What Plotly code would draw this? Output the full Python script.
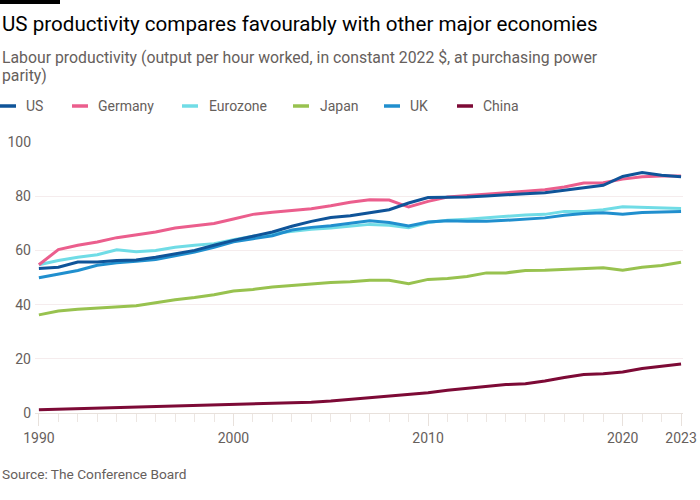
import plotly.graph_objects as go

years = list(range(1990, 2024))

us = [53.3, 53.8, 55.7, 55.7, 56.3, 56.5, 57.5, 58.7, 60.0, 61.9,
      63.7, 65.2, 66.8, 68.9, 70.7, 72.1, 72.8, 73.9, 75.0, 77.5,
      79.5, 79.6, 79.7, 80.1, 80.6, 80.9, 81.3, 82.2, 83.0, 84.0,
      87.3, 88.7, 87.7, 87.2]
germany = [54.7, 60.3, 61.9, 63.1, 64.7, 65.7, 66.8, 68.3, 69.0, 69.9,
           71.6, 73.3, 74.1, 74.7, 75.4, 76.5, 77.8, 78.7, 78.6, 76.0,
           78.1, 79.7, 80.3, 80.7, 81.3, 81.8, 82.4, 83.4, 84.9, 85.0,
           86.3, 87.2, 87.5, 87.5]
eurozone = [54.7, 56.3, 57.5, 58.4, 60.2, 59.5, 60.0, 61.2, 61.9, 62.5,
            63.9, 65.2, 66.2, 67.1, 67.8, 68.3, 68.9, 69.6, 69.3, 68.4,
            70.3, 71.1, 71.5, 72.1, 72.6, 73.1, 73.3, 74.4, 74.4, 75.0,
            76.1, 75.9, 75.6, 75.5]
japan = [36.2, 37.6, 38.3, 38.8, 39.3, 39.6, 40.7, 41.8, 42.6, 43.6,
         45.0, 45.6, 46.5, 47.1, 47.5, 48.2, 48.4, 49.0, 49.0, 47.7,
         49.3, 49.6, 50.4, 51.7, 51.7, 52.6, 52.7, 53.0, 53.2, 53.6,
         52.7, 53.8, 54.4, 55.6]
uk = [49.9, 51.2, 52.6, 54.5, 55.4, 56.0, 56.6, 58.0, 59.4, 61.1,
      63.2, 64.3, 65.4, 67.5, 68.5, 69.1, 70.0, 70.9, 70.3, 69.0,
      70.5, 70.9, 70.8, 70.8, 71.1, 71.5, 72.0, 73.0, 73.6, 73.9,
      73.3, 74.0, 74.3, 74.4]
china = [1.2, 1.4, 1.6, 1.7, 1.9, 2.1, 2.3, 2.5, 2.7, 2.8,
         3.0, 3.2, 3.4, 3.7, 4.0, 4.4, 5.0, 5.7, 6.3, 6.9,
         7.5, 8.4, 9.1, 9.9, 10.5, 10.8, 11.8, 13.1, 14.2, 14.5,
         15.1, 16.4, 17.3, 18.1]

series_names = ["US", "Germany", "Eurozone", "Japan", "UK", "China"]
series_values = [us, germany, eurozone, japan, uk, china]
colors = ["#0f5499", "#eb5e8d", "#70dce6", "#98c24f", "#208fce", "#7d0a36"]

x_tickvals = [1990, 2000, 2010, 2020, 2023]
x_ticktext = ["1990", "2000", "2010", "2020", "2023"]
y_tickvals = [0, 20, 40, 60, 80, 100]

title = "US productivity compares favourably with other major economies"
subtitle1 = "Labour productivity (output per hour worked, in constant 2022 $, at purchasing power"
subtitle2 = "parity)"
source = "Source: The Conference Board"

FONT = "Roboto, 'Open Sans', sans-serif"
GREY = "#66605c"

W, H = 700, 500
ML, MR, MT, MB = 35, 17, 142, 87
PW = W - ML - MR
PH = H - MT - MB


def px(x):
    return (x - ML) / PW


def py(y):
    return (H - MB - y) / PH


fig = go.Figure()
draw_order = [5, 3, 2, 4, 1, 0]
for i in draw_order:
    fig.add_trace(go.Scatter(
        x=years, y=series_values[i], name=series_names[i], mode="lines",
        line=dict(color=colors[i], width=3), showlegend=False,
    ))

shapes = [dict(type="rect", xref="paper", yref="paper",
               x0=px(0), x1=px(60), y0=py(4), y1=py(0),
               fillcolor="#000000", line=dict(width=0))]
annotations = [
    dict(text=title, x=px(0), y=py(24), xref="paper", yref="paper",
         xanchor="left", yanchor="middle", showarrow=False,
         font=dict(family=FONT, size=20.6, color="#000000")),
    dict(text=subtitle1, x=px(0), y=py(57), xref="paper", yref="paper",
         xanchor="left", yanchor="middle", showarrow=False,
         font=dict(family=FONT, size=15.8, color=GREY)),
    dict(text=subtitle2, x=px(0), y=py(75), xref="paper", yref="paper",
         xanchor="left", yanchor="middle", showarrow=False,
         font=dict(family=FONT, size=15.8, color=GREY)),
    dict(text=source, x=px(0), y=py(474), xref="paper", yref="paper",
         xanchor="left", yanchor="middle", showarrow=False,
         font=dict(family=FONT, size=13.7, color=GREY)),
]

swatch_x = [0, 72, 182, 293, 384, 457]
text_x = [24, 96, 207, 318, 408, 481]
leg_y = 106
for i, name in enumerate(series_names):
    shapes.append(dict(type="line", xref="paper", yref="paper",
                       x0=px(swatch_x[i]), x1=px(swatch_x[i] + 16),
                       y0=py(leg_y), y1=py(leg_y),
                       line=dict(color=colors[i], width=3.5)))
    annotations.append(dict(text=name, x=px(text_x[i]), y=py(leg_y),
                            xref="paper", yref="paper", xanchor="left",
                            yanchor="middle", showarrow=False,
                            font=dict(family=FONT, size=14, color=GREY)))

fig.update_layout(
    width=W, height=H,
    margin=dict(l=ML, r=MR, t=MT, b=MB, autoexpand=False),
    paper_bgcolor="#ffffff", plot_bgcolor="#ffffff",
    font=dict(family=FONT, size=14, color=GREY),
    shapes=shapes, annotations=annotations,
    hovermode="x unified",
)
fig.update_xaxes(
    range=[1989.8, 2023.1], tickvals=x_tickvals, ticktext=x_ticktext,
    ticks="outside", ticklen=12, tickcolor="#e8e1dc", tickwidth=1,
    showgrid=False, showline=True, linecolor="#e8e1dc", linewidth=1,
    zeroline=False, tickfont=dict(family=FONT, size=14, color=GREY),
    minor=dict(dtick=1, tick0=1990, ticks="outside", ticklen=8,
               tickcolor="#ece6e2", tickwidth=1, showgrid=False),
    automargin=False, fixedrange=True,
)
fig.update_yaxes(
    range=[0, 100], tickvals=y_tickvals, showgrid=True,
    gridcolor="#f5eced", gridwidth=1, zeroline=False, showline=False,
    ticks="", ticklabelstandoff=3,
    tickfont=dict(family=FONT, size=14, color=GREY),
    automargin=False, fixedrange=True,
)

fig.write_html("out.html")
